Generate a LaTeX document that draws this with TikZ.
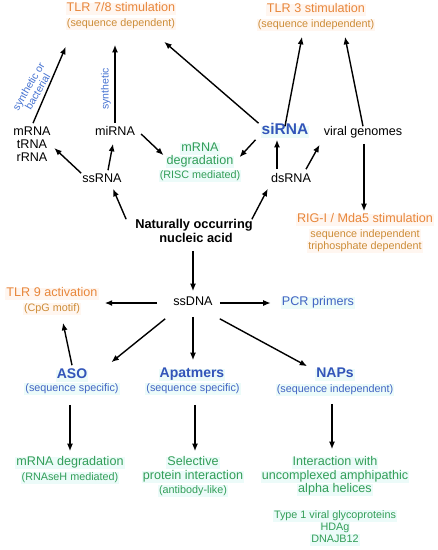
\documentclass[tikz,border=0pt]{standalone}
\usepackage{fontspec}
\setmainfont{Liberation Sans}
\usetikzlibrary{arrows.meta,calc}
\definecolor{orgA}{RGB}{232,135,60}
\definecolor{orgB}{RGB}{205,140,55}
\definecolor{orgBg}{RGB}{255,246,240}
\definecolor{grnA}{RGB}{50,158,88}
\definecolor{cyBg}{RGB}{236,251,249}
\definecolor{bluA}{RGB}{50,85,185}
\definecolor{bluB}{RGB}{65,100,195}
\definecolor{bluR}{RGB}{70,115,210}
\tikzset{
  base/.style={inner sep=1pt, text height=.72em, text depth=.2em, anchor=center},
  blk/.style={base, font=\fontsize{12.6}{14}\selectfont},
  blkb/.style={base, font=\bfseries\fontsize{12.8}{14}\selectfont},
  org/.style={base, text=orgA, fill=orgBg, font=\fontsize{12.6}{14}\selectfont},
  orgs/.style={base, text=orgB, fill=orgBg, font=\fontsize{10.8}{12}\selectfont},
  grn/.style={base, text=grnA, fill=cyBg, font=\fontsize{12.6}{14}\selectfont},
  grns/.style={base, text=grnA, fill=cyBg, font=\fontsize{10.8}{12}\selectfont},
  blu/.style={base, text=bluB, fill=cyBg, font=\fontsize{12.6}{14}\selectfont},
  blub/.style={base, text=bluA, fill=cyBg, font=\bfseries\fontsize{14}{16}\selectfont},
  blus/.style={base, text=bluB, fill=cyBg, font=\fontsize{10.8}{12}\selectfont},
  rotlbl/.style={inner sep=0pt, text=bluR, align=center, font=\fontsize{10.5}{10.5}\selectfont},
  arr/.style={-{Latex[length=7.5pt,width=6pt]}, line width=1.4pt}
}
\begin{document}
\begin{tikzpicture}[x=1pt,y=-1pt]
\path[use as bounding box, fill=white] (0,0) rectangle (438,550);

% top row
\node[org]  (tlr78)  at (121,9)  {TLR 7/8 stimulation};
\node[orgs] (tlr78s) at (121,24) {(sequence dependent)};
\node[org]  (tlr3)   at (316,10) {TLR 3 stimulation};
\node[orgs] (tlr3s)  at (316,25) {(sequence independent)};

% RNA row
\node[blk] (mrna) at (32,133) {mRNA};
\node[blk] (trna) at (32,146) {tRNA};
\node[blk] (rrna) at (32,159) {rRNA};
\node[blk] (mirna) at (115,133) {miRNA};
\node[blk] (ssrna) at (102,180) {ssRNA};
\node[grn]  (deg1) at (200,149) {mRNA};
\node[grn]  (deg2) at (200,162) {degradation};
\node[grns] (deg3) at (200,176) {(RISC mediated)};
\node[blub, font=\bfseries\fontsize{15.5}{17}\selectfont] (sirna) at (285,132) {siRNA};
\node[blk] (viral) at (363,133) {viral genomes};
\node[blk] (dsrna) at (291,180) {dsRNA};

\node[blkb] (nat1) at (194,226) {Naturally occurring};
\node[blkb] (nat2) at (196,240) {nucleic acid};

\node[org]  (rig1) at (365,220) {RIG-I / Mda5 stimulation};
\node[orgs] (rig2) at (365,235) {sequence independent};
\node[orgs] (rig3) at (365,247) {triphosphate dependent};

% DNA part
\node[blk] (ssdna) at (193,303) {ssDNA};
\node[org]  (tlr9)  at (52,294) {TLR 9 activation};
\node[orgs] (tlr9s) at (52,309) {(CpG motif)};
\node[blu]  (pcr)   at (318,303) {PCR primers};

\node[blub] (aso)  at (72,376) {ASO};
\node[blus] (aso2) at (72,389) {(sequence specific)};
\node[blub] (apt)  at (192,375) {Apatmers};
\node[blus] (apt2) at (193,389) {(sequence specific)};
\node[blub] (naps)  at (335,375) {NAPs};
\node[blus] (naps2) at (335,390) {(sequence independent)};

\node[grn]  (mdeg1) at (70,463) {mRNA degradation};
\node[grns] (mdeg2) at (70,478) {(RNAseH mediated)};
\node[grn]  (sel1) at (193,463) {Selective};
\node[grn]  (sel2) at (193,477) {protein interaction};
\node[grns] (sel3) at (193,491) {(antibody-like)};
\node[grn]  (int1) at (335,463) {Interaction with};
\node[grn]  (int2) at (335,477) {uncomplexed amphipathic};
\node[grn]  (int3) at (335,490) {alpha helices};
\node[grns] (typ1) at (335,516) {Type 1 viral glycoproteins};
\node[grns] (typ2) at (335,528) {HDAg};
\node[grns] (typ3) at (335,540) {DNAJB12};

% rotated labels
\node[rotlbl, rotate=60] (lblsb) at (33,89) {synthetic or\\bacterial};
\node[rotlbl, rotate=90] (lbls) at (106,89) {synthetic};

% arrows
\draw[arr] ($(mrna.north)+(1,-4)$) -- ($(tlr78s.south west)+(0,17)$);
\draw[arr] ($(mirna.north)+(0,-4)$) -- ($(tlr78s.south)+(-6,15)$);
\draw[arr] ($(sirna.north west)+(-2,-3)$) -- ($(tlr78s.south east)+(-12,12)$);
\draw[arr] ($(sirna.north)+(0,0)$) -- ($(tlr3s.south)+(-14,6)$);
\draw[arr] ($(viral.north)+(0,-1)$) -- ($(tlr3s.south)+(29,6)$);

\draw[arr] ($(ssrna.north west)+(0,-1)$) -- ($(trna.east)+(6,2)$);
\draw[arr] ($(ssrna.north)+(6,-4)$) -- ($(mirna.south)+(-2,5)$);
\draw[arr] ($(mirna.east)+(5,1)$) -- ($(deg2.north west)+(-2,-1)$);
\draw[arr] ($(sirna.south west)+(-5,2)$) -- ($(deg2.north east)+(5,1)$);
\draw[arr] ($(dsrna.north)+(-14,-5)$) -- ($(sirna.south)+(-8,2)$);
\draw[arr] ($(dsrna.north)+(15,-5)$) -- ($(viral.south west)+(-3,6)$);
\draw[arr] ($(nat1.north west)+(-8,-1)$) -- ($(ssrna.south)+(11,3)$);
\draw[arr] ($(nat1.north east)+(-2,-1)$) -- ($(dsrna.south west)+(-2,3)$);
\draw[arr] ($(viral.south)+(1,5)$) -- ($(rig1.north)+(-1,-3)$);

\draw[arr] ($(nat2.south)+(-3,5)$) -- ($(ssdna.north)+(0,-6)$);
\draw[arr] ($(ssdna.west)+(-15,0)$) -- ($(tlr9.east |- ssdna.west)+(6,0)$);
\draw[arr] ($(ssdna.east)+(6,0)$) -- ($(pcr.west)+(-10,0)$);
\draw[arr] ($(ssdna.south west)+(-7,10)$) -- ($(aso.north east)+(23,-8)$);
\draw[arr] ($(ssdna.south)+(0,8)$) -- ($(apt.north)+(1,-9)$);
\draw[arr] ($(ssdna.south east)+(6,10)$) -- ($(naps.north west)+(-8,-3)$);
\draw[arr] ($(aso.north)+(0,-5)$) -- ($(tlr9s.south)+(11,8)$);

\draw[arr] ($(aso2.south)+(-2,10)$) -- ($(mdeg1.north)+(0,-6)$);
\draw[arr] ($(apt2.south)+(2,10)$) -- ($(sel1.north)+(2,-6)$);
\draw[arr] ($(naps2.south)+(-3,8)$) -- ($(int1.north)+(-3,-8)$);
\end{tikzpicture}
\end{document}
